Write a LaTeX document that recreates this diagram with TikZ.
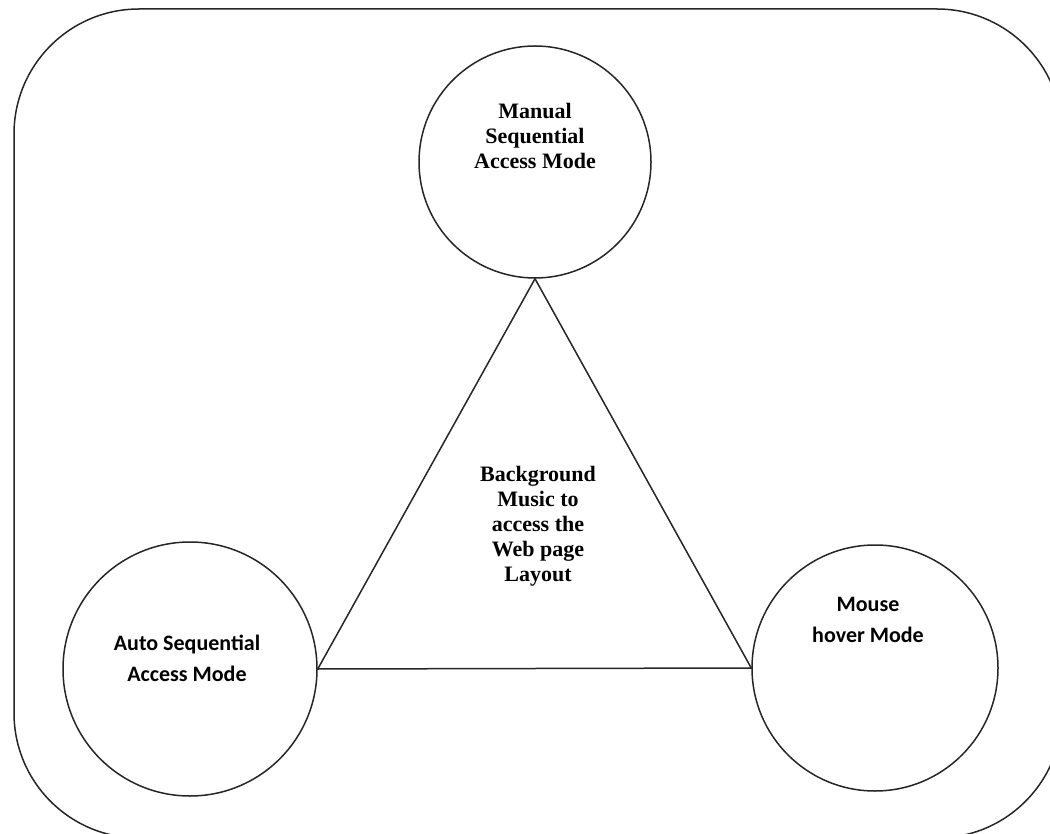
\documentclass[tikz,border=0pt]{standalone}
\usepackage{fontspec}
\setmainfont{Liberation Serif}
\newfontfamily\labelsans{Carlito}
\begin{document}
\begin{tikzpicture}[x=1pt,y=-1pt,
  ln/.style={line width=1.5pt,draw=black!85},
  modecircle/.style={ln,circle,inner sep=0pt},
  serifbold/.style={font=\fontsize{22}{25}\selectfont\bfseries,align=center,inner sep=0pt},
  sansbold/.style={font=\labelsans\fontsize{22}{31}\selectfont\bfseries,align=center,inner sep=0pt}]
\useasboundingbox (0,0) rectangle (1050,834);
\clip (0,0) rectangle (1050,834);
% outer rounded frame (partly outside the page)
\draw[ln,rounded corners=125pt] (14,9) rectangle (1062,838);
% mode circles
\node[modecircle,minimum size=232pt] (manual) at (535,162) {};
\node[modecircle,minimum size=254pt] (auto) at (190,669) {};
\node[modecircle,minimum size=246pt] (mouse) at (875,668) {};
% triangle
\draw[ln,line join=miter] (manual.south) -- (auto.east) -- (mouse.west) -- cycle;
% texts
\node[serifbold] (manualtxt) at (535,136) {Manual\\Sequential\\Access Mode};
\node[serifbold] (centertxt) at (538,526) {Background\\Music to\\access the\\Web page\\Layout};
\node[sansbold] (autotxt) at (187,658) {Auto Sequential\\Access Mode};
\node[sansbold] (mousetxt) at (868,620) {Mouse\\hover Mode};
\end{tikzpicture}
\end{document}
